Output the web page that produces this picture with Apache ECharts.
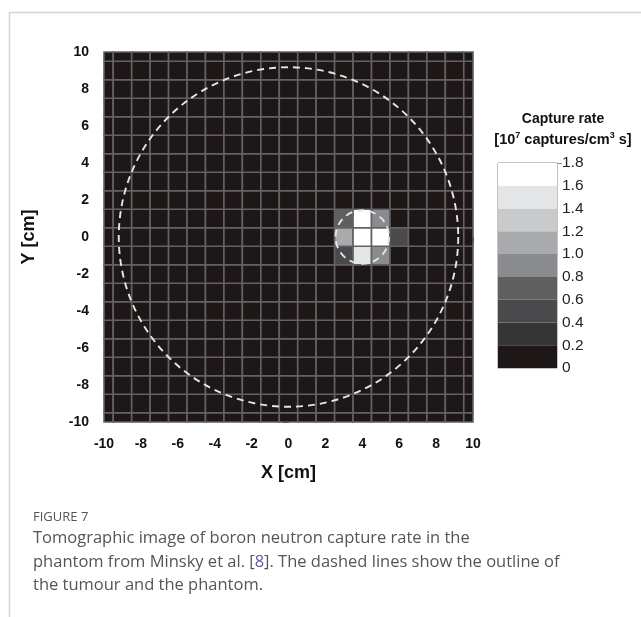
<!DOCTYPE html>
<html>
<head>
<meta charset="utf-8">
<script src="https://cdn.jsdelivr.net/npm/echarts@6/dist/echarts.min.js"></script>
<style>html,body{margin:0;padding:0;background:#fff}#c{width:641px;height:617px}</style>
</head>
<body>
<div id="c"></div>
<script>
// cell centres (cm)
var xCells = [-10,-9,-8,-7,-6,-5,-4,-3,-2,-1,0,1,2,3,4,5,6,7,8,9,10];
var yCells = [-10,-9,-8,-7,-6,-5,-4,-3,-2,-1,0,1,2,3,4,5,6,7,8,9,10];
// capture rate outside the tumour (10^7 captures/cm^3 s)
var backgroundRate = 0.05;
// tumour region cells: [x, y, rate]
var hotCells = [
  [3, 1, 0.7], [4, 1, 1.7], [5, 1, 0.9],
  [3, 0, 1.1], [4, 0, 1.7], [5, 0, 1.7], [6, 0, 0.5],
  [3, -1, 0.5], [4, -1, 1.5], [5, -1, 0.9]
];
// outlines: [cx, cy, r] (cm)
var outlines = [[0, 0, 9.2], [4, 0, 1.45]];
// colour scale bins
var binEdges = [0, 0.2, 0.4, 0.6, 0.8, 1.0, 1.2, 1.4, 1.6, 1.8];
var binColors = ['#1e1718','#353535','#4a4a4d','#5f5f60','#8a8b8e','#a9aaac','#c9cacc','#e4e5e7','#ffffff'];

var hotMap = {};
hotCells.forEach(function (c) { hotMap[c[0] + ',' + c[1]] = c[2]; });
var cellData = [];
yCells.forEach(function (y) {
  xCells.forEach(function (x) {
    var k = x + ',' + y;
    cellData.push([x, y, hotMap.hasOwnProperty(k) ? hotMap[k] : backgroundRate]);
  });
});
var pieces = [];
var legendData = [];
for (var i = 0; i < binColors.length; i++) {
  pieces.push({ gte: binEdges[i], lt: binEdges[i + 1] + (i === binColors.length - 1 ? 0.001 : 0), color: binColors[i] });
  legendData.push([binEdges[i], binEdges[i + 1], (binEdges[i] + binEdges[i + 1]) / 2]);
}

var axisLabelStyle = { fontFamily: 'Liberation Sans, Arial', fontWeight: 'bold', fontSize: 14, color: '#111' };

var chart = echarts.init(document.getElementById('c'), null, { renderer: 'canvas' });
chart.setOption({
  animation: false,
  backgroundColor: '#fff',
  grid: [
    { left: 104, top: 52, width: 369, height: 370 },
    { left: 498, top: 163, width: 59, height: 205, show: true, borderColor: '#888', borderWidth: 1, backgroundColor: 'transparent' }
  ],
  xAxis: [
    { gridIndex: 0, type: 'value', min: -10, max: 10, interval: 2,
      name: 'X [cm]', nameLocation: 'middle', nameGap: 42,
      nameTextStyle: { fontFamily: 'Liberation Sans, Arial', fontWeight: 'bold', fontSize: 18, color: '#111' },
      axisLine: { show: true, lineStyle: { color: '#333', width: 1 } },
      axisTick: { show: true, length: 6, lineStyle: { color: '#333' } },
      minorTick: { show: true, splitNumber: 2, length: 4, lineStyle: { color: '#333' } },
      splitLine: { show: false },
      axisLabel: Object.assign({ margin: 15, formatter: function (v) { return String(v); } }, axisLabelStyle)
    },
    { gridIndex: 1, type: 'value', min: 0, max: 1, show: false }
  ],
  yAxis: [
    { gridIndex: 0, type: 'value', min: -10, max: 10, interval: 2,
      name: 'Y [cm]', nameLocation: 'middle', nameGap: 66, nameRotate: 90,
      nameTextStyle: { fontFamily: 'Liberation Sans, Arial', fontWeight: 'bold', fontSize: 18, color: '#111' },
      axisLine: { show: true, lineStyle: { color: '#333', width: 1 } },
      axisTick: { show: true, length: 6, lineStyle: { color: '#333' } },
      minorTick: { show: true, splitNumber: 2, length: 4, lineStyle: { color: '#333' } },
      splitLine: { show: false },
      axisLabel: Object.assign({ margin: 15 }, axisLabelStyle)
    },
    { gridIndex: 1, type: 'value', min: 0, max: 1.8, interval: 0.2, position: 'right',
      axisLine: { show: false },
      axisTick: { show: false },
      splitLine: { show: false },
      axisLabel: { margin: 5, fontFamily: 'Liberation Sans, Arial', fontSize: 15.5, color: '#222',
        formatter: function (v) { return v === 0 ? '0' : v.toFixed(1); } }
    }
  ],
  visualMap: {
    type: 'piecewise', show: false, dimension: 2, seriesIndex: [0, 2], pieces: pieces
  },
  title: {
    text: 'Capture rate',
    subtext: '[10{sup|7} captures/cm{sup|3} s]',
    left: 558, textAlign: 'center', top: 107, itemGap: 5,
    textStyle: { fontFamily: 'Liberation Sans, Arial', fontWeight: 'bold', fontSize: 14, color: '#111' },
    subtextStyle: { fontFamily: 'Liberation Sans, Arial', fontWeight: 'bold', fontSize: 14.5, color: '#111',
      rich: { sup: { fontFamily: 'Liberation Sans, Arial', fontWeight: 'bold', fontSize: 9, color: '#111', verticalAlign: 'top', padding: [0, 0, 8, 0] } } }
  },
  series: [
    { type: 'custom', xAxisIndex: 0, yAxisIndex: 0, data: cellData, z: 2,
      renderItem: function (params, api) {
        var p = api.coord([api.value(0) - 0.5, api.value(1) + 0.5]);
        var s = api.size([1, 1]);
        var rect = echarts.graphic.clipRectByRect(
          { x: p[0], y: p[1], width: s[0], height: s[1] },
          { x: params.coordSys.x, y: params.coordSys.y, width: params.coordSys.width, height: params.coordSys.height });
        if (!rect) return;
        return { type: 'rect', shape: rect, style: { fill: api.visual('color'), stroke: '#626262', lineWidth: 1.6 } };
      }
    },
    { type: 'custom', xAxisIndex: 0, yAxisIndex: 0, data: outlines, z: 5, silent: true,
      renderItem: function (params, api) {
        var c = api.coord([api.value(0), api.value(1)]);
        var r = api.size([api.value(2), api.value(2)])[0];
        return { type: 'circle', shape: { cx: c[0], cy: c[1], r: r },
          style: { fill: null, stroke: '#e6e6e6', lineWidth: 1.9, lineDash: [7, 5] } };
      }
    },
    { type: 'custom', xAxisIndex: 1, yAxisIndex: 1, data: legendData, z: 2,
      encode: { x: -1, y: [0, 1] },
      renderItem: function (params, api) {
        var p0 = api.coord([0, api.value(1)]);
        var p1 = api.coord([1, api.value(0)]);
        return { type: 'rect', shape: { x: p0[0], y: p0[1], width: p1[0] - p0[0], height: p1[1] - p0[1] },
          style: { fill: api.visual('color') } };
      }
    }
  ],
  graphic: [
    { type: 'line', shape: { x1: 9, y1: 12.5, x2: 641, y2: 12.5 }, style: { stroke: '#d4d4d4', lineWidth: 1.5 }, silent: true },
    { type: 'line', shape: { x1: 9.5, y1: 12, x2: 9.5, y2: 617 }, style: { stroke: '#d4d4d4', lineWidth: 1.5 }, silent: true },
    { type: 'line', shape: { x1: 557, y1: 163.5, x2: 562, y2: 163.5 }, style: { stroke: '#888', lineWidth: 1 }, silent: true },
    { type: 'text', left: 33, top: 511, style: { text: 'FIGURE 7', fontFamily: 'Open Sans', fontSize: 13, fill: '#555' } },
    { type: 'text', left: 33, top: 527, style: {
        text: 'Tomographic image of boron neutron capture rate in the\nphantom from Minsky et al. [{ref|8}]. The dashed lines show the outline of\nthe tumour and the phantom.',
        fontFamily: 'Open Sans', fontSize: 16.5, lineHeight: 23.5, fill: '#555',
        rich: { ref: { fontFamily: 'Open Sans', fontSize: 16.5, fill: '#5b5bb0', lineHeight: 23.5 } } } }
  ]
});
</script>
</body>
</html>
